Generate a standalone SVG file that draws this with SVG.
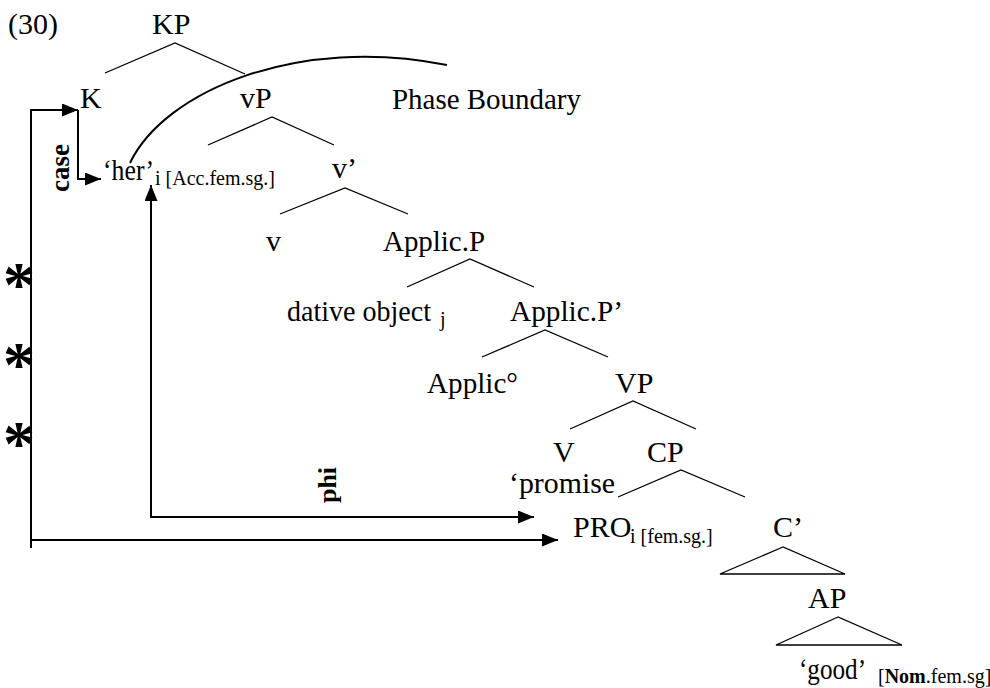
<svg xmlns="http://www.w3.org/2000/svg" width="990" height="688" viewBox="0 0 990 688">
<defs>
<marker id="arr" markerUnits="userSpaceOnUse" markerWidth="17" markerHeight="14" refX="16" refY="6.5" orient="auto">
<path d="M0,0 L16,6.5 L0,13 z" fill="#000"/>
</marker>
<style>
text{font-family:"Liberation Serif","Times New Roman",serif;fill:#000}
.lbl{font-size:30px}
.sub{font-size:20px}
.bold{font-weight:bold}
.br{fill:none;stroke:#000;stroke-width:1.3}
.con{fill:none;stroke:#000;stroke-width:2}
.star{font-size:64px;font-weight:bold;text-anchor:middle}
</style>
</defs>
<rect width="990" height="688" fill="#fff"/>
<text class="lbl" x="8" y="34">(30)</text>
<g id="KP"><text class="lbl" x="152" y="34">KP</text><polyline class="br" points="105,73 175,43 245,74"/></g>
<g id="K"><text class="lbl" x="80" y="108">K</text></g>
<g id="vP"><text class="lbl" x="240" y="108">vP</text><polyline class="br" points="208,145 272,117 334,145"/></g>
<g id="phase"><text class="lbl" x="392" y="109" textLength="189" lengthAdjust="spacingAndGlyphs">Phase Boundary</text></g>
<g id="her"><text class="lbl" x="103" y="180" textLength="51" lengthAdjust="spacingAndGlyphs">‘her’</text><text class="sub" x="155" y="185">i [Acc.fem.sg.]</text></g>
<g id="vbar"><text class="lbl" x="332" y="178">v’</text><polyline class="br" points="280,214 345,188 408,214"/></g>
<g id="v"><text class="lbl" x="266" y="251">v</text></g>
<g id="ApplicP"><text class="lbl" x="383" y="251" textLength="102" lengthAdjust="spacingAndGlyphs">Applic.P</text><polyline class="br" points="407,287 470,259 534,287"/></g>
<g id="dative"><text class="lbl" x="287" y="321" textLength="144" lengthAdjust="spacingAndGlyphs">dative object</text><text class="sub" x="440" y="326">j</text></g>
<g id="ApplicPbar"><text class="lbl" x="510" y="321" textLength="113" lengthAdjust="spacingAndGlyphs">Applic.P’</text><polyline class="br" points="482,357 545,330 608,357"/></g>
<g id="Applic0"><text class="lbl" x="427" y="393" textLength="91" lengthAdjust="spacingAndGlyphs">Applic°</text></g>
<g id="VP"><text class="lbl" x="615" y="393">VP</text><polyline class="br" points="570,429 633,401 696,429"/></g>
<g id="V"><text class="lbl" x="553" y="462">V</text><text class="lbl" x="509" y="493" textLength="106" lengthAdjust="spacingAndGlyphs">‘promise</text></g>
<g id="CP"><text class="lbl" x="647" y="462">CP</text><polyline class="br" points="618,497 681,470 745,497"/></g>
<g id="PRO"><text class="lbl" x="573" y="537">PRO</text><text class="sub" x="630" y="543">i [fem.sg.]</text></g>
<g id="Cbar"><text class="lbl" x="773" y="537">C’</text><polygon class="br" points="783,547 720,574 845,574"/></g>
<g id="AP"><text class="lbl" x="808" y="608">AP</text><polygon class="br" points="838,617 776,645 902,645"/></g>
<g id="good"><text class="lbl" x="799" y="679" textLength="67" lengthAdjust="spacingAndGlyphs">‘good’</text><text class="sub" x="878" y="683">[<tspan class="bold">Nom</tspan>.fem.sg]</text></g>
<g id="connectors">
<path class="con" d="M130,163 C165,90 300,35 447,65"/>
<polyline class="con" points="31,548 31,110 78,110" marker-end="url(#arr)"/>
<polyline class="con" points="78,110 78,179 101,179" marker-end="url(#arr)"/>
<line class="con" x1="151" y1="517" x2="151" y2="185" marker-end="url(#arr)"/>
<line class="con" x1="150" y1="517" x2="534" y2="517" marker-end="url(#arr)"/>
<line class="con" x1="31" y1="540" x2="558" y2="540" marker-end="url(#arr)"/>
<text class="bold" font-size="27" transform="translate(69,168) rotate(-90)" text-anchor="middle">case</text>
<text class="bold" font-size="26" transform="translate(336,485) rotate(-90)" text-anchor="middle">phi</text>
<text class="star" x="19" y="306">*</text>
<text class="star" x="19" y="386">*</text>
<text class="star" x="19" y="465">*</text>
</g>
</svg>
